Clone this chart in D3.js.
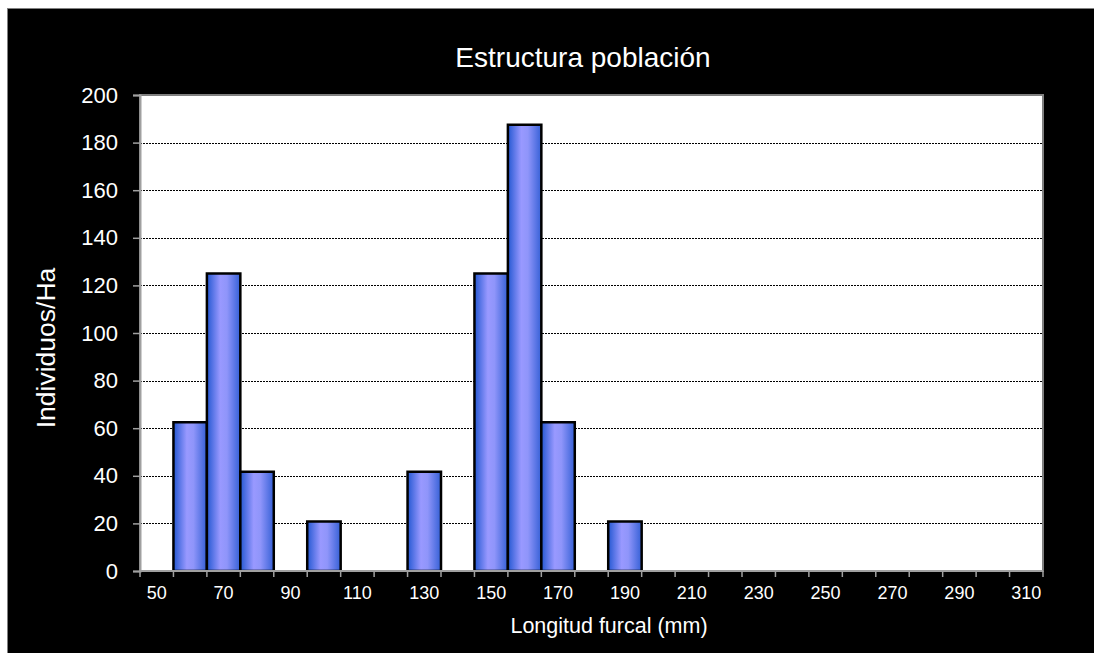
<!DOCTYPE html>
<html>
<head>
<meta charset="utf-8">
<script src="https://cdn.jsdelivr.net/npm/d3@7"></script>
<style>
  html, body { margin: 0; padding: 0; background: #ffffff; }
  svg { display: block; }
  text { font-family: Arial, "Liberation Sans", sans-serif; fill: #ffffff; }
</style>
</head>
<body>
<svg id="chart" width="1094" height="653"></svg>
<script>
const categories = [50, 60, 70, 80, 90, 100, 110, 120, 130, 140, 150, 160, 170, 180, 190, 200, 210, 220, 230, 240, 250, 260, 270, 280, 290, 300, 310];
const values = [0, 62.5, 125, 41.7, 0, 20.8, 0, 0, 41.7, 0, 125, 187.5, 62.5, 0, 20.8, 0, 0, 0, 0, 0, 0, 0, 0, 0, 0, 0, 0];
const xTickLabels = [50, 70, 90, 110, 130, 150, 170, 190, 210, 230, 250, 270, 290, 310];
const yTicks = [0, 20, 40, 60, 80, 100, 120, 140, 160, 180, 200];
const titleText = "Estructura población";
const xTitle = "Longitud furcal (mm)";
const yTitle = "Individuos/Ha";

const svg = d3.select("#chart");
const W = 1094, H = 653;
const plot = { left: 140, right: 1043, top: 95, bottom: 571 };

// outer black panel with grey border
svg.append("rect").attr("x", 7.5).attr("y", 8.5).attr("width", W).attr("height", H)
  .attr("fill", "#000").attr("stroke", "#808080").attr("stroke-width", 1);

const defs = svg.append("defs");
const grad = defs.append("linearGradient").attr("id", "barGrad")
  .attr("x1", "0%").attr("x2", "100%").attr("y1", "0%").attr("y2", "0%");
grad.append("stop").attr("offset", "0%").attr("stop-color", "#2458d2");
grad.append("stop").attr("offset", "40%").attr("stop-color", "#9999ff");
grad.append("stop").attr("offset", "60%").attr("stop-color", "#8f95fa");
grad.append("stop").attr("offset", "100%").attr("stop-color", "#3560d6");

const x = d3.scaleBand().domain(categories).range([plot.left, plot.right]).padding(0);
const y = d3.scaleLinear().domain([0, 200]).range([plot.bottom, plot.top]);

// plot area
svg.append("rect").attr("x", plot.left).attr("y", plot.top)
  .attr("width", plot.right - plot.left).attr("height", plot.bottom - plot.top)
  .attr("fill", "#ffffff");

// gridlines
svg.append("g").selectAll("line").data(yTicks.filter(d => d > 0 && d < 200)).join("line")
  .attr("x1", plot.left).attr("x2", plot.right)
  .attr("y1", d => Math.round(y(d)) + 0.5).attr("y2", d => Math.round(y(d)) + 0.5)
  .attr("stroke", "#000").attr("stroke-width", 1).attr("stroke-dasharray", "2,1");

// bars
svg.append("g").selectAll("rect").data(categories.map((c, i) => ({ c, v: values[i] })).filter(d => d.v > 0))
  .join("rect")
  .attr("x", d => x(d.c)).attr("width", x.bandwidth())
  .attr("y", d => y(d.v)).attr("height", d => y(0) - y(d.v))
  .attr("fill", "url(#barGrad)").attr("stroke", "#000").attr("stroke-width", 2.5);

// plot border
svg.append("rect").attr("x", plot.left).attr("y", plot.top)
  .attr("width", plot.right - plot.left).attr("height", plot.bottom - plot.top)
  .attr("fill", "none").attr("stroke", "#808080").attr("stroke-width", 2);

// y axis
const yAxis = svg.append("g").attr("transform", `translate(${plot.left},0)`)
  .call(d3.axisLeft(y).tickValues(yTicks).tickSize(7).tickPadding(15).tickFormat(d3.format("d")));
yAxis.select(".domain").attr("stroke", "#a0a0a0").attr("stroke-width", 2);
yAxis.selectAll(".tick line").attr("stroke", "#a0a0a0").attr("stroke-width", 1.5);
yAxis.selectAll("text").attr("fill", "#fff").style("font-size", "22px")
  .style("font-family", "Arial, 'Liberation Sans', sans-serif");

// x axis: boundary ticks
const bounds = categories.map(c => x(c)).concat([x.range()[1]]);
svg.append("g").selectAll("line").data(bounds).join("line")
  .attr("x1", d => d).attr("x2", d => d)
  .attr("y1", plot.bottom).attr("y2", plot.bottom + 6)
  .attr("stroke", "#a0a0a0").attr("stroke-width", 1.5);
svg.append("line").attr("x1", plot.left).attr("x2", plot.right)
  .attr("y1", plot.bottom).attr("y2", plot.bottom)
  .attr("stroke", "#a0a0a0").attr("stroke-width", 2);

const xAxis = svg.append("g").attr("transform", `translate(0,${plot.bottom})`)
  .call(d3.axisBottom(x).tickValues(xTickLabels).tickSize(0).tickPadding(15));
xAxis.select(".domain").remove();
xAxis.selectAll("text").attr("fill", "#fff").style("font-size", "18px")
  .style("font-family", "Arial, 'Liberation Sans', sans-serif");

// titles
svg.append("text").attr("x", 583).attr("y", 67).attr("text-anchor", "middle")
  .style("font-size", "28px").text(titleText);
svg.append("text").attr("x", 609).attr("y", 633).attr("text-anchor", "middle")
  .style("font-size", "21.5px").text(xTitle);
svg.append("text").attr("transform", "translate(55,348) rotate(-90)").attr("text-anchor", "middle")
  .style("font-size", "26.5px").text(yTitle);
</script>
</body>
</html>
